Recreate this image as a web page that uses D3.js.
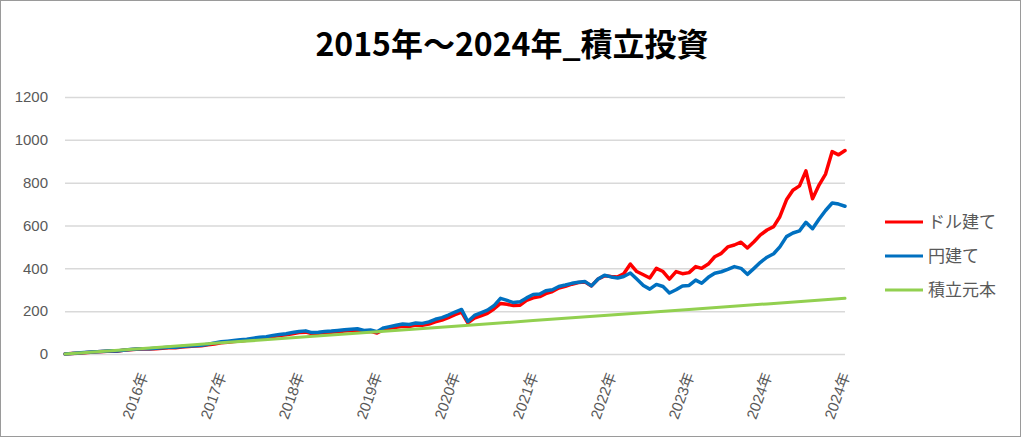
<!DOCTYPE html>
<html><head><meta charset="utf-8">
<script src="https://cdn.jsdelivr.net/npm/d3@7"></script>
<style>
html,body{margin:0;padding:0;background:#fff;}
svg{display:block;}
</style></head>
<body>
<svg id="chart" width="1024" height="438"></svg>
<script>
// ---- data ----
const title = "2015年～2024年_積立投資";
const seriesNames = ["ドル建て", "円建て", "積立元本"];
const seriesColors = ["#ff0000", "#0070c0", "#92d050"];
const startYear = 2015; // monthly values start at 2015-01
const yTicks = [0, 200, 400, 600, 800, 1000, 1200];
const xTickLabels = ["2016年","2017年","2018年","2019年","2020年","2021年","2022年","2023年","2024年","2024年"];

// ドル建て (monthly, 2015-01 .. 2024-12, plus end value)
const usdValues = [
  0, 2, 4, 6, 8, 10, 12, 14, 13, 17, 20, 22,
  23, 23, 25, 27, 29, 29, 33, 35, 37, 39, 43, 47,
  52, 55, 58, 61, 64, 69, 73, 76, 82, 86, 90, 95,
  100, 102, 96, 97, 100, 102, 104, 107, 110, 112, 104, 106,
  98, 114, 120, 125, 130, 128, 135, 134, 140, 150, 158, 170,
  184, 196, 145, 168, 178, 190, 210, 236, 232, 226, 228, 250,
  262, 268, 282, 292, 308, 316, 326, 334, 336, 318, 350, 365,
  362, 360, 375, 420, 385, 370, 355, 400, 385, 350, 385, 375,
  380, 408, 400, 420, 454, 470, 500, 509, 522, 495, 524, 556,
  579, 595, 641, 720, 765, 785, 855, 725, 790, 840, 945, 930,
  950
];
// 円建て
const jpyValues = [
  0, 2, 5, 7, 9, 11, 13, 15, 14, 18, 21, 23,
  24, 24, 27, 29, 31, 31, 35, 37, 39, 41, 46, 52,
  57, 60, 63, 66, 69, 74, 78, 81, 87, 91, 95, 100,
  105, 108, 100, 102, 105, 107, 110, 113, 116, 118, 110, 112,
  104, 122, 128, 134, 140, 138, 145, 143, 150, 162, 170, 182,
  196, 208, 152, 180, 192, 205, 225, 260, 250, 240, 244, 262,
  278, 280, 295, 300, 315, 322, 330, 335, 338, 318, 350, 368,
  360, 355, 362, 378, 350, 320, 303, 325, 315, 285, 300, 318,
  320, 345, 330, 358, 377, 384, 395, 408, 400, 372, 400, 428,
  452, 468, 500, 548, 565, 575, 615, 585, 630, 670, 705, 700,
  690
];
// 積立元本 (yearly, 2015-01 .. 2025-01)
const principalValues = [0, 26, 52, 78, 104, 130, 156, 182, 208, 234, 260];

// ---- layout ----
const plot = {left: 65, right: 845, top: 97, bottom: 354};
const startDate = new Date(startYear, 0, 1);
const endDate = new Date(2024, 11, 31);

const svg = d3.select("#chart");

// outer border
svg.append("rect").attr("x", 0.5).attr("y", 0.5).attr("width", 1020).attr("height", 436)
  .attr("fill", "#fff").attr("stroke", "#9a9a9a").attr("stroke-width", 1);

const x = d3.scaleTime().domain([startDate, endDate]).range([plot.left, plot.right]);
const y = d3.scaleLinear().domain([0, 1200]).range([plot.bottom, plot.top]);

function monthDate(i) {
  const d = new Date(startYear, i, 1);
  return d > endDate ? endDate : d;
}

// gridlines + y labels
const yAxis = d3.axisLeft(y).tickValues(yTicks).tickSize(-(plot.right - plot.left)).tickPadding(17).tickFormat(d3.format("d"));
const gy = svg.append("g").attr("transform", `translate(${plot.left},0)`).call(yAxis);
gy.select(".domain").remove();
gy.selectAll(".tick line").attr("stroke", "#d9d9d9").attr("stroke-width", 1.5);
gy.selectAll(".tick text").attr("fill", "#595959").attr("font-size", 15)
  .attr("font-family", "'Liberation Sans', Arial, sans-serif");

// x labels
const xTickDates = xTickLabels.map((l, i) => i < xTickLabels.length - 1 ? new Date(2016 + i, 0, 1) : endDate);
const gx = svg.append("g").attr("transform", `translate(0,${plot.bottom})`);
const xAxis = d3.axisBottom(x).tickValues(xTickDates).tickSize(0)
  .tickFormat((d, i) => xTickLabels[i]);
gx.call(xAxis);
gx.select(".domain").remove();
gx.selectAll(".tick text")
  .attr("fill", "#595959").attr("font-size", 15)
  .attr("font-family", "'Liberation Sans', 'Noto Sans CJK JP', sans-serif")
  .attr("text-anchor", "end")
  .attr("y", 0).attr("dy", "0.35em")
  .attr("transform", "translate(0,19) rotate(-70)");

// lines
const line = d3.line().x(d => x(d.date)).y(d => y(d.value));
const usd = usdValues.map((v, i) => ({date: monthDate(i), value: v}));
const jpy = jpyValues.map((v, i) => ({date: monthDate(i), value: v}));
const principal = principalValues.map((v, i) => ({date: i < principalValues.length - 1 ? new Date(startYear + i, 0, 1) : endDate, value: v}));

[[usd, 0, 3.5], [jpy, 1, 3.5], [principal, 2, 3]].forEach(([data, k, w]) => {
  svg.append("path").datum(data).attr("d", line)
    .attr("fill", "none").attr("stroke", seriesColors[k]).attr("stroke-width", w)
    .attr("stroke-linejoin", "round").attr("stroke-linecap", "round");
});

// title
svg.append("text").attr("x", 512).attr("y", 56).attr("text-anchor", "middle")
  .attr("font-family", "'Noto Sans CJK JP', sans-serif").attr("font-weight", "bold")
  .attr("font-size", 32).attr("fill", "#000").text(title);

// legend
const legendRows = [222, 256, 290];
seriesNames.forEach((name, i) => {
  const g = svg.append("g").attr("transform", `translate(0,${legendRows[i]})`);
  g.append("line").attr("x1", 885).attr("x2", 923).attr("y1", 0).attr("y2", 0)
    .attr("stroke", seriesColors[i]).attr("stroke-width", 3);
  g.append("text").attr("x", 928).attr("y", 0).attr("dy", "0.35em")
    .attr("font-family", "'Noto Sans CJK JP', sans-serif").attr("font-size", 17)
    .attr("fill", "#595959").text(name);
});
</script>
</body></html>
